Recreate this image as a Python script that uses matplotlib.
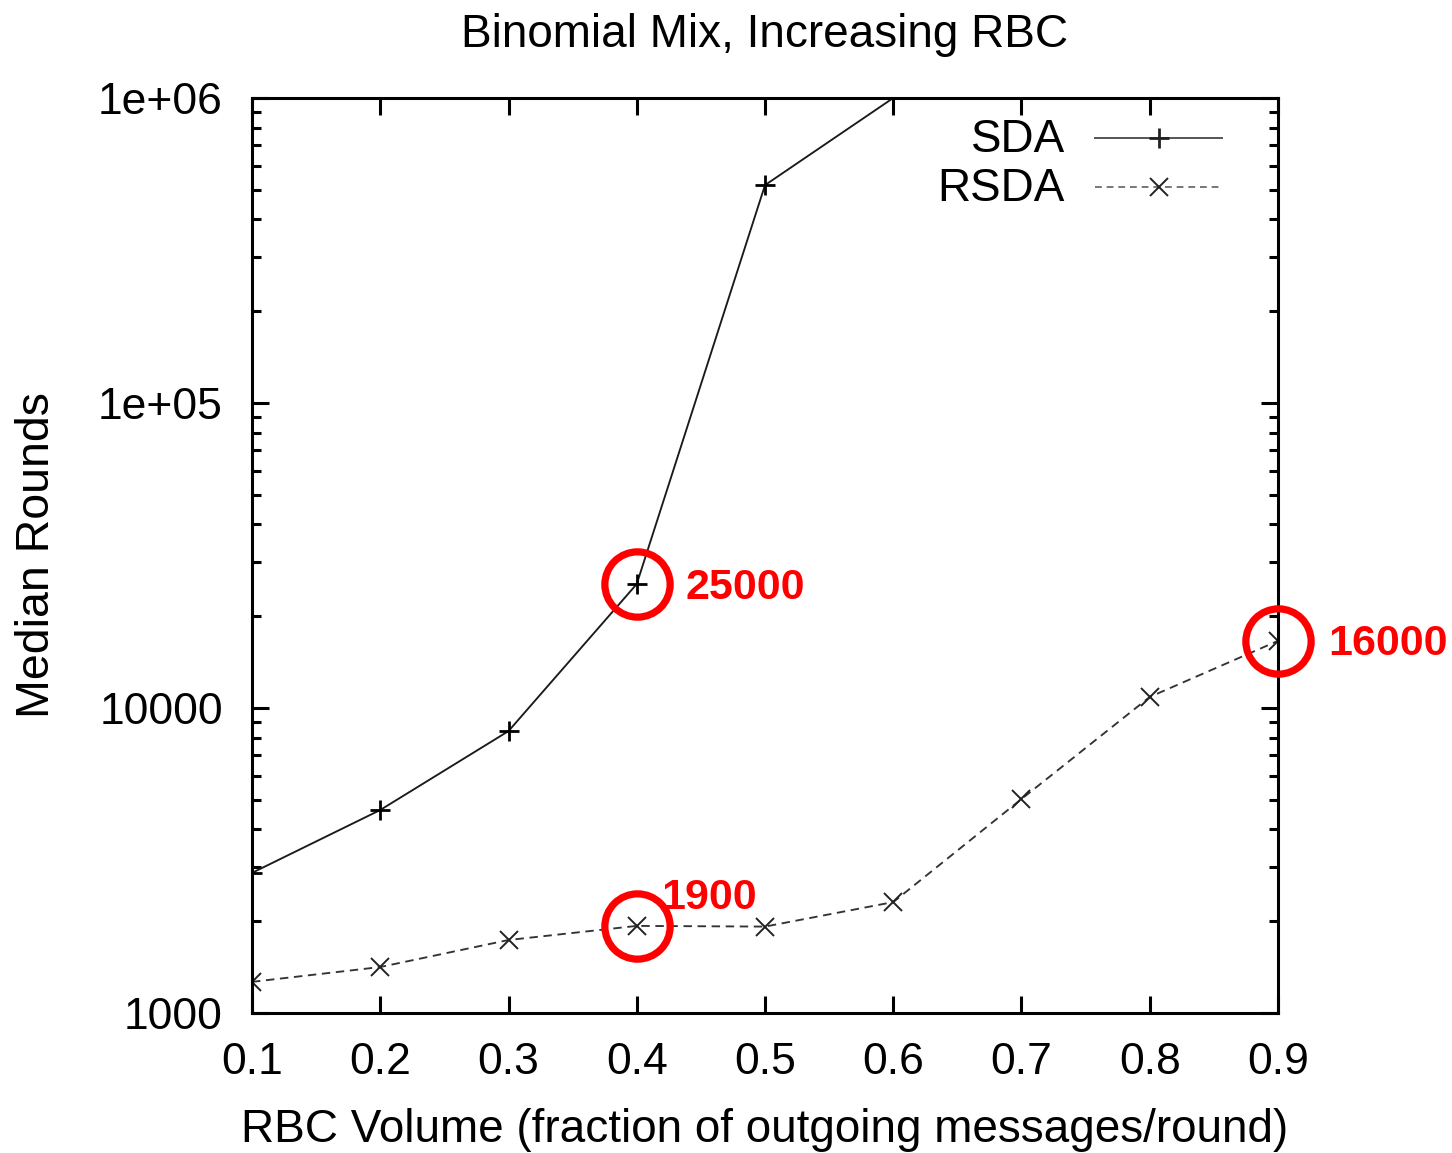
import matplotlib
matplotlib.use("Agg")
import matplotlib.pyplot as plt
from matplotlib.ticker import FixedLocator, FixedFormatter, LogLocator, NullFormatter

plt.rcParams['font.family'] = ['Liberation Sans', 'DejaVu Sans']

# Data
rbc = [0.1, 0.2, 0.3, 0.4, 0.5, 0.6, 0.7, 0.8, 0.9]
sda_x = [0.1, 0.2, 0.3, 0.4, 0.5, 0.6]
sda = [2880, 4630, 8400, 25500, 518000, 1000000]
rsda = [1265, 1415, 1735, 1930, 1920, 2310, 5030, 10870, 16600]
xtick_labels = ['0.1', '0.2', '0.3', '0.4', '0.5', '0.6', '0.7', '0.8', '0.9']
ytick_vals = [1000, 10000, 100000, 1000000]
ytick_labels = ['1000', '10000', '1e+05', '1e+06']
highlights = [(0.4, 25500, '25000'), (0.4, 1930, '1900'), (0.9, 16600, '16000')]
highlight_offsets = [(35, -3), (18, 20), (36, -2)]

W, H = 1452, 1153
fig = plt.figure(figsize=(W / 100, H / 100), dpi=100)
ax = fig.add_axes([252 / W, (H - 1013) / H, (1278 - 252) / W, (1013 - 98) / H])

ax.set_yscale('log')
ax.set_xlim(0.1, 0.9)
ax.set_ylim(1000, 1e6)

ax.plot(sda_x, sda, color='#1a1a1a', lw=1.35, marker='+', ms=15, mew=2.0, mec='black')
ax.plot(rbc, rsda, color='#333333', lw=1.35, ls=(0, (4.5, 3.0)), marker='x', ms=12.5,
        mew=1.4, mec='#222222')

# highlights
for (hx, hy, lab), (dx, dy) in zip(highlights, highlight_offsets):
    ax.plot([hx], [hy], marker='o', ms=47, mfc='none', mec='#ff0000', mew=5.2, clip_on=False, zorder=5)
    ax.annotate(lab, (hx, hy), xytext=(dx, dy), textcoords='offset points',
                ha='left', va='center', color='#ff0000', fontsize=31, fontweight='bold',
                annotation_clip=False, zorder=6)

# ticks
ax.xaxis.set_major_locator(FixedLocator(rbc))
ax.xaxis.set_major_formatter(FixedFormatter(xtick_labels))
ax.yaxis.set_major_locator(FixedLocator(ytick_vals))
ax.yaxis.set_major_formatter(FixedFormatter(ytick_labels))
ax.yaxis.set_minor_locator(LogLocator(base=10, subs=range(2, 10)))
ax.yaxis.set_minor_formatter(NullFormatter())
ax.tick_params(which='both', direction='in', top=True, right=True, width=2.2, colors='black')
ax.tick_params(which='major', length=12.5, pad=21, labelsize=32)
ax.tick_params(which='minor', length=6.5)
for s in ax.spines.values():
    s.set_linewidth(2.2)

ax.set_title('Binomial Mix, Increasing RBC', fontsize=33, pad=37)
ax.set_xlabel('RBC Volume (fraction of outgoing messages/round)', fontsize=33, labelpad=18)
ax.set_ylabel('Median Rounds', fontsize=33.5, labelpad=28)

# legend (manual, gnuplot style)
leg_items = [('SDA', '-', '+', '#555555', 0.9563, 15, 2.0),
             ('RSDA', (0, (3.5, 2.5)), 'x', '#777777', 0.9027, 12.5, 1.4)]
for lab, ls, mk, col, yy, ms, mew in leg_items:
    ax.text(0.7924, yy - 0.002, lab, transform=ax.transAxes, ha='right', va='center', fontsize=33)
    ax.plot([0.8216, 0.9454], [yy, yy], transform=ax.transAxes, color=col, lw=1.4, ls=ls)
    ax.plot([0.8836], [yy], transform=ax.transAxes, marker=mk, ms=ms, mew=mew, color='#222222')

fig.savefig('out.png', dpi=100)
